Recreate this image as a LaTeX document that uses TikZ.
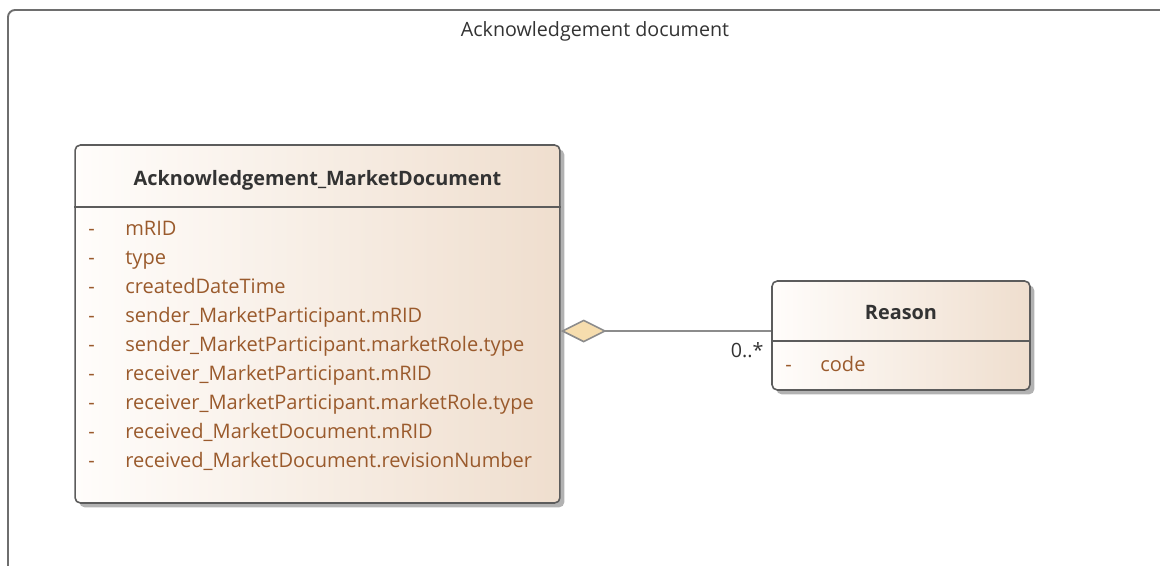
\documentclass[tikz,border=0pt]{standalone}
\usepackage{fontspec}
\setmainfont{Open Sans}
\usetikzlibrary{arrows.meta,positioning,shadows}
\definecolor{frameln}{HTML}{6E6E6E}
\definecolor{boxln}{HTML}{5C5C5C}
\definecolor{boxlft}{HTML}{FFFDFB}
\definecolor{boxrgt}{HTML}{EFDECE}
\definecolor{attrtx}{HTML}{9A5A2C}
\definecolor{headtx}{HTML}{333333}
\definecolor{aggfill}{HTML}{F6DDAE}
\definecolor{aggln}{HTML}{8C8C8C}

\begin{document}
\begin{tikzpicture}[x=0.02cm,y=-0.02cm,
  frame/.style={draw=frameln,line width=1.1pt,rounded corners=4pt},
  ftitle/.style={font=\fontsize{11.2}{13}\selectfont,text=headtx},
  cls/.style={draw=boxln,line width=0.9pt,rounded corners=3pt,left color=boxlft,right color=boxrgt,
              drop shadow={shadow xshift=2.5pt,shadow yshift=-2.5pt,fill=black,opacity=.3}},
  sep/.style={draw=boxln,line width=0.8pt},
  cname/.style={font=\fontsize{11.3}{13}\selectfont\bfseries,text=headtx},
  attr/.style={anchor=west,font=\fontsize{11.4}{13}\selectfont,text=attrtx,inner sep=0pt,
               text height=8.5pt,text depth=2.5pt},
  agg/.style={-{Diamond[length=0.92cm,width=0.46cm,fill=aggfill]},draw=aggln,line width=0.9pt},
  mult/.style={font=\fontsize{11.2}{13}\selectfont,text=headtx,inner sep=1pt}
]
\useasboundingbox (0,0) rectangle (1160,565);
\begin{scope}
  \clip (0,0) rectangle (1160,565);
  \draw[frame] (8,620) |- (1220,10);
\end{scope}
\node[ftitle] (pkgname) at (595,31) {Acknowledgement document};

% document class
\node[cls,minimum width=9.7cm,minimum height=7.16cm] (amd) at (317.5,324) {};
\node[cname] (amdname) at (317.5,180) {Acknowledgement\_MarketDocument};
\coordinate (amdsep) at (0,207);
\draw[sep] (amd.west |- amdsep) -- (amd.east |- amdsep);
\foreach \a [count=\i from 0] in {mRID,type,createdDateTime,sender\_MarketParticipant.mRID,
    sender\_MarketParticipant.marketRole.type,receiver\_MarketParticipant.mRID,
    receiver\_MarketParticipant.marketRole.type,received\_MarketDocument.mRID,
    received\_MarketDocument.revisionNumber}{
  \node[attr] (amddash\i) at (88,230+29*\i) {-};
  \node[attr] (amdat\i) at (125,230+29*\i) {\a};
}

% reason class
\node[cls,minimum width=5.16cm,minimum height=2.18cm] (rsn) at (901,335.5) {};
\node[cname] (rsnname) at (901,313) {Reason};
\coordinate (rsnsep) at (0,341);
\draw[sep] (rsn.west |- rsnsep) -- (rsn.east |- rsnsep);
\node[attr] (rsndash) at (785,366) {-};
\node[attr] (rsnat) at (820,366) {code};

% aggregation
\coordinate (lnk) at (0,331);
\draw[agg] (rsn.west |- lnk) -- node[mult,at start,anchor=north east,xshift=-3pt,yshift=-5pt] (rsnmult) {0..*} (amd.east |- lnk);
\end{tikzpicture}
\end{document}
